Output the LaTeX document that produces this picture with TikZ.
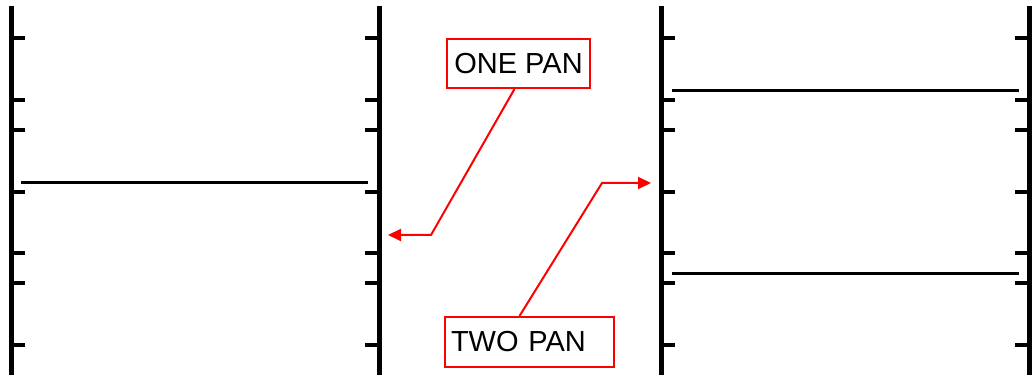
\documentclass[tikz,border=0pt]{standalone}
\usepackage{fontspec}
\setmainfont{Liberation Sans}
\usepackage{tikz}
\usetikzlibrary{arrows.meta}

\begin{document}
\begin{tikzpicture}[
    x=0.5pt, y=-0.5pt,
    rail/.style={line width=2.5pt},
    tick/.style={line width=2pt},
    pan/.style={line width=1.5pt},
    label/.style={draw=red, line width=1pt, rectangle, inner xsep=3pt, font=\fontsize{14.5}{17}\selectfont},
    pointer/.style={draw=red, line width=1pt, -{Triangle[length=6.5pt,width=6pt]}}
    ]

    \useasboundingbox (0,0) rectangle (1032,378);

    % Стійки
    \foreach \xl/\xr in {11/379, 661/1029} {
        \draw[rail] (\xl,6) -- (\xl,375);
        \draw[rail] (\xr,6) -- (\xr,375);
        \foreach \yt in {38,100,130,192,253,283,345} {
            \draw[tick] (\xl,\yt) -- ++(14,0);
            \draw[tick] (\xr,\yt) -- ++(-14,0);
        }
    }

    % Піддони
    \draw[pan] (21,183) -- (368,183);
    \draw[pan] (672,91) -- (1019,91);
    \draw[pan] (672,274) -- (1019,274);

    % Вузли
    \node (onePan) [label, minimum width=71.5pt, minimum height=24.5pt] at (518.5,63.5) {ONE PAN};
    \node (twoPan) [label, text width=78.5pt, align=left, minimum height=25pt] at (529.5,342) {TWO PAN};
    \coordinate (oneBend) at (431,235);
    \coordinate (oneTip) at (388,235);
    \coordinate (twoBend) at (602,183);
    \coordinate (twoTip) at (651,183);

    % Стрілки
    \draw[pointer] ([xshift=-2pt]onePan.south) -- (oneBend) -- (oneTip);
    \draw[pointer] ([xshift=-5pt]twoPan.north) -- (twoBend) -- (twoTip);

\end{tikzpicture}
\end{document}
